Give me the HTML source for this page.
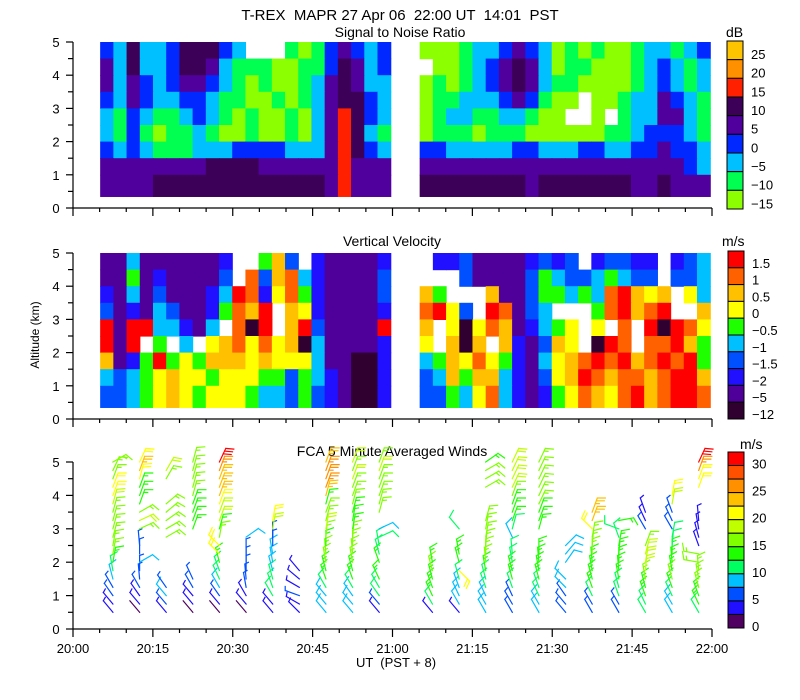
<!DOCTYPE html>
<html><head><meta charset="utf-8"><style>
html,body{margin:0;padding:0;background:#fff;}
svg{display:block;font-family:"Liberation Sans",sans-serif;}
.pre{white-space:pre;}
</style></head><body>
<svg id="chart" width="800" height="700" viewBox="0 0 800 700" xmlns="http://www.w3.org/2000/svg">
<text class="pre" x="400" y="20" text-anchor="middle" font-size="15">T-REX  MAPR 27 Apr 06  22:00 UT  14:01  PST</text>
<text x="400" y="37" text-anchor="middle" font-size="14">Signal to Noise Ratio</text>
<text x="392" y="246" text-anchor="middle" font-size="14">Vertical Velocity</text>
<text x="392" y="456" text-anchor="middle" font-size="14">FCA 5 Minute Averaged Winds</text>
<text x="726" y="37" font-size="14">dB</text>
<text x="722" y="246" font-size="14">m/s</text>
<text x="740" y="449" font-size="14">m/s</text>
<text transform="translate(39,335) rotate(-90)" text-anchor="middle" font-size="12">Altitude (km)</text>
<text class="pre" x="396" y="667" text-anchor="middle" font-size="13">UT  (PST + 8)</text>
<g id="layer"></g>
</svg>
<script>
// ---------- data ----------
const xTickLabels = ["20:00","20:15","20:30","20:45","21:00","21:15","21:30","21:45","22:00"];
const yTickLabels = ["0","1","2","3","4","5"];
const altEdges = [5.0,4.5,4.0,3.5,3.0,2.5,2.0,1.5,1.0,0.35];
const snrLabels = ["25","20","15","10","5","0","-5","-10","-15"];
const vvLabels = ["1.5","1","0.5","0","-0.5","-1","-1.5","-2","-5","-12"];
const windLabels = ["30","25","20","15","10","5","0"];
// SNR levels 0..8 (-15..25 dB), -1 = no data
const snrSeg1 = [
[3,2,5,2,2,3,5,5,5,3,2,-1,-1,-1,1,0,1,3,4,3,2,3],
[4,2,5,2,2,3,5,5,4,2,1,1,1,0,0,1,1,3,5,4,2,3],
[4,2,4,3,2,3,4,4,3,2,1,0,1,0,0,1,2,4,5,4,2,2],
[3,2,4,3,2,2,3,3,2,1,1,0,0,1,0,1,2,4,5,5,3,2],
[2,1,3,2,1,1,2,3,2,1,0,1,0,0,1,0,2,4,6,5,3,2],
[2,1,3,1,0,1,1,2,1,0,0,1,0,0,1,0,2,4,6,5,2,1],
[3,2,3,2,1,1,1,2,2,2,3,3,3,3,2,2,2,4,6,5,3,2],
[4,4,4,4,4,4,4,4,5,5,5,5,4,4,4,4,4,4,6,4,4,4],
[4,4,4,4,5,5,5,5,5,5,5,5,5,5,5,5,5,4,6,4,4,4]];
const snrSeg2 = [
[0,0,0,1,2,2,3,4,3,2,0,1,0,1,0,0,1,2,2,1,2,3],
[-1,0,0,1,2,3,4,5,4,2,0,1,1,0,0,0,1,2,3,2,1,2],
[0,1,0,1,2,3,4,5,4,2,1,1,0,0,0,0,1,2,3,2,1,2],
[0,1,1,2,2,2,3,4,3,1,0,0,-1,0,0,1,2,2,4,3,2,1],
[0,1,2,2,1,1,2,2,1,0,0,-1,-1,0,-1,1,2,2,4,4,2,1],
[0,1,1,1,0,1,1,1,0,0,0,0,0,0,1,1,2,3,3,3,2,1],
[3,3,2,2,2,2,2,3,3,2,2,2,3,3,2,2,3,3,4,3,3,2],
[4,4,4,4,4,4,4,4,4,4,4,4,4,4,4,4,4,4,4,4,3,2],
[5,5,5,5,5,5,5,5,4,5,5,5,5,5,5,5,4,4,5,4,4,4]];
// Vertical velocity levels 0..9 (-12..1.5 m/s), -1 = no data
const vvSeg1 = [
[1,1,4,1,1,1,1,1,1,2,-1,-1,5,7,3,-1,2,1,1,1,1,2],
[1,1,5,1,2,1,1,1,1,3,-1,8,3,7,8,4,2,1,1,1,1,3],
[2,1,4,1,3,1,1,1,2,4,9,8,2,6,8,5,2,1,1,1,1,3],
[3,1,2,1,4,3,1,1,2,5,8,7,9,-1,7,6,2,1,1,1,1,2],
[9,1,9,9,4,4,2,1,4,-1,8,0,9,-1,7,9,3,1,1,1,1,9],
[9,1,9,-1,5,-1,4,-1,6,7,8,6,8,6,7,0,4,1,1,1,1,2],
[7,1,2,5,9,5,6,5,7,7,7,6,7,6,6,6,4,1,1,0,0,2],
[4,3,4,5,6,7,6,6,5,6,6,6,5,5,3,5,4,2,1,0,0,2],
[3,3,4,5,6,7,6,5,6,6,6,5,4,4,3,5,3,2,1,0,0,2]];
const vvSeg2 = [
[-1,2,2,3,1,1,1,1,2,3,2,3,-1,2,3,3,2,2,-1,2,3,4],
[-1,-1,-1,3,1,1,1,1,3,5,4,3,3,4,5,4,3,3,-1,3,3,4],
[7,5,-1,-1,-1,7,1,1,3,5,5,4,5,4,8,9,7,6,7,-1,6,4],
[8,9,6,3,-1,9,8,1,3,4,-1,-1,-1,5,8,9,7,8,9,-1,-1,7],
[7,-1,6,0,6,8,7,1,2,4,5,6,-1,6,-1,8,-1,9,0,9,8,6],
[6,-1,7,0,7,-1,7,2,1,3,7,6,-1,0,9,8,-1,8,8,9,7,5],
[4,5,7,6,8,6,5,2,1,4,6,7,8,9,8,9,7,8,9,8,9,5],
[3,4,7,5,7,7,4,2,1,3,6,7,9,8,7,8,8,7,8,9,9,7],
[3,3,5,4,6,8,4,2,1,2,5,6,8,7,6,8,9,7,8,9,9,8]];
// Winds: profile times (minutes after 20:00), levels (km), speeds (m/s), directions (deg)
const windTimes = [7.5,12.5,17.5,22.5,27.5,32.5,37.5,42.5,47.5,52.5,57.5,67.5,72.5,77.5,82.5,87.5,92.5,97.5,102.5,107.5,112.5,117.5];
const windLevels = [0.5,0.75,1.0,1.25,1.5,1.75,2.0,2.25,2.5,2.75,3.0,3.25,3.5,3.75,4.0,4.25,4.5,4.75,5.0];
const N = null;
const windSpeeds = [
[3,4,5,5,8,12,14,15,16,17,17,17,17,18,20,20,17,17,16],
[2,3,4,5,5,5,8,5,5,N,17,18,17,13,14,14,20,24,22],
[4,5,8,7,N,N,N,N,N,17,17,17,16,16,N,N,17,18,N],
[2,4,4,5,6,N,N,N,N,N,13,14,14,13,16,16,15,16,15],
[2,4,5,9,10,12,14,21,20,15,14,18,19,20,23,24,24,27,31],
[2,3,4,5,5,6,5,5,N,8,N,N,N,N,N,N,N,N,N],
[3,4,10,12,12,9,8,8,5,5,19,20,N,N,N,N,N,N,N],
[4,4,5,4,3,4,N,N,N,N,N,N,N,N,N,N,N,N,N],
[8,8,8,12,13,14,15,15,14,16,18,17,16,14,24,25,26,25,23],
[8,8,9,11,14,14,15,15,15,15,14,14,14,15,16,17,18,17,18],
[4,5,12,12,13,N,13,12,12,10,8,N,16,16,17,17,17,18,17],
[4,12,13,14,14,15,14,N,N,N,N,N,N,N,N,N,N,N,N],
[3,8,8,9,12,20,13,13,N,N,12,N,N,N,N,N,N,N,N],
[8,9,9,10,12,14,15,16,17,17,17,15,N,N,N,15,15,15,14],
[5,5,6,12,13,13,12,12,N,9,12,13,13,14,17,18,18,19,18],
[8,9,10,12,13,13,13,13,N,N,13,14,14,15,15,16,17,16,16],
[5,5,6,8,8,N,8,9,9,N,N,N,N,N,N,N,N,N,N],
[5,5,12,13,13,14,14,15,16,17,21,23,24,N,N,N,N,N,N],
[5,5,12,12,13,13,13,14,13,12,11,13,N,N,N,N,N,N,N],
[12,12,13,14,17,18,19,18,17,N,5,4,4,N,N,N,N,N,N],
[8,9,12,14,15,14,13,13,12,12,5,5,5,18,20,N,N,N,N],
[12,13,14,16,16,16,15,15,4,4,4,4,N,N,N,21,22,26,31]];
const windDirs = [
[320,320,325,330,345,350,10,10,10,15,15,15,15,15,20,20,20,25,60],
[320,320,325,330,355,0,60,0,355,0,65,65,60,20,20,20,15,20,25],
[320,320,320,325,0,0,0,0,0,60,60,55,50,50,0,0,30,30,0],
[320,320,320,330,335,0,0,0,0,0,20,20,20,20,15,15,15,15,15],
[320,320,325,330,335,340,345,315,315,10,15,20,20,20,20,20,20,20,25],
[320,320,330,350,355,0,0,0,0,55,0,0,0,0,0,0,0,0,0],
[320,320,330,340,345,345,350,350,0,0,10,10,0,0,0,0,0,0,0],
[315,300,290,300,310,320,0,0,0,0,0,0,0,0,0,0,0,0,0],
[320,320,320,330,340,345,350,355,0,5,10,15,20,15,15,20,20,20,20],
[320,320,325,330,340,345,350,355,0,5,10,10,15,15,20,20,20,20,20],
[320,320,325,330,335,0,340,345,350,65,65,0,15,15,20,20,20,20,20],
[320,330,335,340,345,345,350,0,0,0,0,0,0,0,0,0,0,0,0],
[320,330,335,340,345,135,345,350,0,0,320,0,0,0,0,0,0,0,0],
[330,330,335,340,345,350,355,0,5,10,10,15,0,0,0,60,60,60,55],
[330,330,335,340,345,345,350,355,0,335,15,20,20,20,20,25,25,25,25],
[330,330,335,340,345,350,355,0,0,0,15,20,20,25,25,25,25,25,25],
[320,320,325,315,315,0,35,40,45,0,0,0,0,0,0,0,0,0,0],
[330,330,335,340,345,350,355,0,5,10,315,20,20,0,0,0,0,0,0],
[330,330,340,345,350,355,0,5,10,340,290,80,0,0,0,0,0,0,0],
[330,335,340,345,350,5,10,15,20,0,330,335,340,0,0,0,0,0,0],
[330,330,335,340,345,350,355,0,5,10,330,335,340,10,10,0,0,0,0],
[330,335,340,345,350,355,280,280,340,345,350,355,0,0,0,20,20,20,25]];

// ---------- layout / scales ----------
const svgNS = "http://www.w3.org/2000/svg";
const layer = document.getElementById('layer');
const X0 = 73, X1 = 712;
function xScale(t){ return X0 + t*(X1-X0)/120; }
const panels = [{base:208,top:42},{base:419,top:253},{base:629,top:462}];
function yScale(p, alt){ return p.base - alt*(p.base-p.top)/5; }
const snrColors = ['#8cff00','#00ff50','#00c0ff','#0028ff','#50009c','#3c0058','#ff2000','#ff9000','#ffc400'];
const vvColors = ['#300030','#50009a','#2010ff','#0050ff','#00c0ff','#20ff00','#ffff00','#ffc000','#ff6000','#ff0000'];
const windColors = ['#500060','#2010ff','#0050ff','#00c0ff','#00ff60','#20ff00','#80ff00','#c0ff00','#ffff00','#ffc000','#ff9000','#ff5000','#ff0000'];
function el(tag, attrs, parent){ const e=document.createElementNS(svgNS,tag); for(const k in attrs) e.setAttribute(k,attrs[k]); (parent||layer).appendChild(e); return e; }

const segStarts = [5.1, 65.1], colDt = 2.48;
function drawHeat(p, segs, colors, name){
  const g = el('g',{});
  
  
  segs.forEach((seg, si)=>{
    seg.forEach((row, ri)=>{
      const y0 = yScale(p, altEdges[ri]), y1 = yScale(p, altEdges[ri+1]);
      row.forEach((v, ci)=>{
        if (v < 0) return;
        const xa = xScale(segStarts[si] + ci*colDt), xb = xScale(segStarts[si] + (ci+1)*colDt);
        const r = el('rect',{x:xa.toFixed(2),y:y0.toFixed(2),width:(xb-xa+0.6).toFixed(2),height:(y1-y0+0.6).toFixed(2),fill:colors[v]}, g);
        
        
      });
    });
  });
}
drawHeat(panels[0], [snrSeg1, snrSeg2], snrColors, 'snr-heatmap');
drawHeat(panels[1], [vvSeg1, vvSeg2], vvColors, 'vv-heatmap');

// winds
function windColor(s){ return windColors[Math.min(windColors.length-1, Math.floor(s/2.5))]; }
const wg = el('g',{'stroke-width':'1.2','stroke-linecap':'square',fill:'none'});


windTimes.forEach((t, pi)=>{
  windLevels.forEach((alt, li)=>{
    const s = windSpeeds[pi][li];
    if (s === null) return;
    const d = windDirs[pi][li]*Math.PI/180;
    const ax = xScale(t), ay = yScale(panels[2], alt);
    const ux = Math.sin(d), uy = -Math.cos(d);
    const L = 15;
    const ex = ax+ux*L, ey = ay+uy*L;
    const col = windColor(s);
    let path = `M${ax.toFixed(1)},${ay.toFixed(1)}L${ex.toFixed(1)},${ey.toFixed(1)}`;
    const td = d + 70*Math.PI/180;
    const tx = Math.sin(td), ty = -Math.cos(td);
    let rem = s, k = 0;
    while (rem >= 7.5){ const bx=ex-ux*3*k, by=ey-uy*3*k; path += `M${bx.toFixed(1)},${by.toFixed(1)}l${(tx*8).toFixed(1)},${(ty*8).toFixed(1)}`; rem -= 10; k++; }
    if (rem >= 2.5){ const bx=ex-ux*3*k, by=ey-uy*3*k; path += `M${bx.toFixed(1)},${by.toFixed(1)}l${(tx*4).toFixed(1)},${(ty*4).toFixed(1)}`; }
    const b = el('path',{d:path, stroke:col}, wg);
    
    
  });
});

// axes
panels.forEach((p, pi)=>{
  const ag = el('g',{stroke:'#000','stroke-width':'1.2',fill:'none'});
  
  
  el('line',{x1:X0,y1:p.top,x2:X0,y2:p.base},ag);
  el('line',{x1:X0,y1:p.base,x2:X1,y2:p.base},ag);
  for (let m=0; m<=120; m+=5){
    const x = xScale(m), len = (m%15===0)?8:4;
    el('line',{x1:x,y1:p.base,x2:x,y2:p.base+len},ag);
  }
  for (let a=0; a<=10; a++){
    const y = yScale(p, a/2), len = (a%2===0)?7:5;
    el('line',{x1:X0-len,y1:y,x2:X0,y2:y},ag);
  }
  yTickLabels.forEach((lab, i)=>{
    const tx = el('text',{x:56,y:yScale(p,i)+5,'font-size':'13','text-anchor':'middle',fill:'#000'});
    tx.textContent = lab;
    
    
  });
});
xTickLabels.forEach((lab, i)=>{
  const tx = el('text',{x:xScale(i*15),y:653,'font-size':'13','text-anchor':'middle',fill:'#000'});
  tx.textContent = lab;
  
  
});

// colorbars
function colorbar(x, top, bottom, colorsTopDown, labels, labelYs, name){
  const g = el('g',{});
  
  
  const n = colorsTopDown.length, h = (bottom-top)/n;
  colorsTopDown.forEach((c,i)=>{
    const r = el('rect',{x:x,y:top+i*h,width:16,height:h,fill:c,stroke:'#000','stroke-width':'1'},g);
    
    
  });
  labels.forEach((lab,i)=>{
    const tx = el('text',{x:x+24,y:labelYs(i, h)+5,'font-size':'13',fill:'#000'},g);
    tx.textContent = lab.replace('-', '\u2212');
    
    
  });
}
colorbar(727, 41, 209, snrColors.slice().reverse(), snrLabels, (i,h)=>41+h*(i+0.7), 'snr-colorbar');
colorbar(728, 251, 419, vvColors.slice().reverse(), vvLabels, (i,h)=>251+h*(i+0.7), 'vv-colorbar');
colorbar(728, 452, 628, windColors.slice().reverse(), windLabels, (i,h)=>452+h*(1+2*i)-2, 'wind-colorbar');
</script>
</body></html>
